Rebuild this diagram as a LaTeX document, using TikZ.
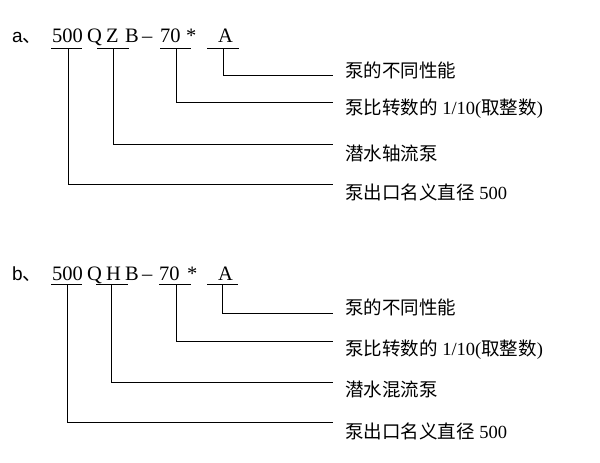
\documentclass[tikz,border=0pt]{standalone}
\usepackage{fontspec}
\setmainfont{Liberation Serif}
\newfontfamily\cjk{Noto Sans CJK SC}
\newfontfamily\lsans{Liberation Sans}
\begin{document}
\begin{tikzpicture}[x=1pt,y=-1pt,
  code/.style={font=\fontsize{20.5}{22}\selectfont, inner sep=0pt, anchor=base west},
  tag/.style={font=\lsans\fontsize{19}{22}\selectfont, inner sep=0pt, anchor=base west},
  lab/.style={font=\fontsize{18.5}{20}\selectfont, inner sep=0pt, anchor=west},
  ln/.style={line width=0.9pt}]
\useasboundingbox (0,0) rectangle (600,463);

% ---------- a ----------
\node[tag] (ta) at (12,42) {a{\cjk 、}};
\node[code] (a500) at (52,42) {500};
\node[code] (aQ) at (87,42) {Q};
\node[code] (aZ) at (106,42) {Z};
\node[code] (aB) at (125,42) {B};
\node[code] (adash) at (142,42) {–};
\node[code] (a70) at (160,42) {70};
\node[code] (astar) at (186,42) {*};
\node[code] (aA) at (218,42) {A};

\node[lab] (al1) at (345,70) {\cjk 泵的不同性能};
\node[lab] (al2) at (345,109) {{\cjk 泵比转数的} 1/10({\cjk 取整数})};
\node[lab] (al3) at (345,153) {\cjk 潜水轴流泵};
\node[lab] (al4) at (345,192) {{\cjk 泵出口名义直径} 500};

\coordinate (au1a) at (51,48);  \coordinate (au1b) at (82,48);  \coordinate (am1) at (68,48);
\coordinate (au2a) at (97,48);  \coordinate (au2b) at (129,48); \coordinate (am2) at (113,48);
\coordinate (au3a) at (160,48); \coordinate (au3b) at (191,48); \coordinate (am3) at (176,48);
\coordinate (au4a) at (207,48); \coordinate (au4b) at (239,48); \coordinate (am4) at (223,48);
\coordinate (ae4) at (333,75);
\coordinate (ae3) at (333,102);
\coordinate (ae2) at (333,144);
\coordinate (ae1) at (333,184);

\draw[ln] (au1a) -- (au1b);
\draw[ln] (au2a) -- (au2b);
\draw[ln] (au3a) -- (au3b);
\draw[ln] (au4a) -- (au4b);
\draw[ln] (am4) |- (ae4);
\draw[ln] (am3) |- (ae3);
\draw[ln] (am2) |- (ae2);
\draw[ln] (am1) |- (ae1);

% ---------- b ----------
\node[tag] (tb) at (12,280) {b{\cjk 、}};
\node[code] (b500) at (52,280) {500};
\node[code] (bQ) at (87,280) {Q};
\node[code] (bH) at (106,280) {H};
\node[code] (bB) at (125,280) {B};
\node[code] (bdash) at (142,280) {–};
\node[code] (b70) at (159,280) {70};
\node[code] (bstar) at (187,280) {*};
\node[code] (bA) at (218,280) {A};

\node[lab] (bl1) at (345,307) {\cjk 泵的不同性能};
\node[lab] (bl2) at (345,350) {{\cjk 泵比转数的} 1/10({\cjk 取整数})};
\node[lab] (bl3) at (345,389) {\cjk 潜水混流泵};
\node[lab] (bl4) at (345,431) {{\cjk 泵出口名义直径} 500};

\coordinate (bu1a) at (51,284);  \coordinate (bu1b) at (82,284);  \coordinate (bm1) at (67,284);
\coordinate (bu2a) at (96,284);  \coordinate (bu2b) at (128,284); \coordinate (bm2) at (111,284);
\coordinate (bu3a) at (159,284); \coordinate (bu3b) at (191,284); \coordinate (bm3) at (176,284);
\coordinate (bu4a) at (207,284); \coordinate (bu4b) at (238,284); \coordinate (bm4) at (222,284);
\coordinate (be4) at (333,313);
\coordinate (be3) at (333,341);
\coordinate (be2) at (333,382);
\coordinate (be1) at (333,422);

\draw[ln] (bu1a) -- (bu1b);
\draw[ln] (bu2a) -- (bu2b);
\draw[ln] (bu3a) -- (bu3b);
\draw[ln] (bu4a) -- (bu4b);
\draw[ln] (bm4) |- (be4);
\draw[ln] (bm3) |- (be3);
\draw[ln] (bm2) |- (be2);
\draw[ln] (bm1) |- (be1);
\end{tikzpicture}
\end{document}
